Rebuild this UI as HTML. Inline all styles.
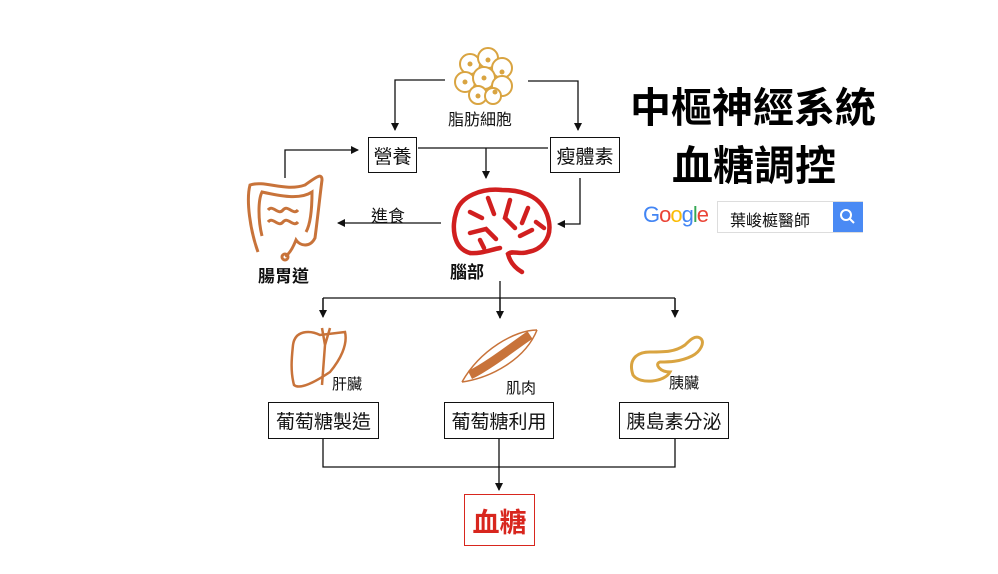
<!DOCTYPE html>
<html><head><meta charset="utf-8"><style>
body{margin:0;width:998px;height:574px;background:#fff;position:relative;overflow:hidden;font-family:"Liberation Sans","Noto Sans CJK TC",sans-serif;}
.t{position:absolute;white-space:nowrap;color:#111}
.box{position:absolute;border:1.5px solid #111;box-sizing:border-box;display:flex;align-items:center;justify-content:center;font-size:19px;color:#111;background:#fff}
</style></head><body>
<svg width="998" height="574" style="position:absolute;left:0;top:0">
<defs><marker id="a" markerWidth="8" markerHeight="8" refX="7" refY="4" orient="auto" markerUnits="userSpaceOnUse"><path d="M0,0 L8,4 L0,8 z" fill="#111"/></marker></defs>
<g stroke="#111" stroke-width="1.3" fill="none">
<path d="M445,80 H395 V130" marker-end="url(#a)"/>
<path d="M528,81 H578 V130" marker-end="url(#a)"/>
<path d="M418,148 H548"/>
<path d="M486,148 V178" marker-end="url(#a)"/>
<path d="M580,178 V224 H558" marker-end="url(#a)"/>
<path d="M285,178 V150 H358" marker-end="url(#a)"/>
<path d="M441,223 H338" marker-end="url(#a)"/>
<path d="M500,281 V298 M323,298 H675 M323,298 V316 M500,298 V318 M675,298 V316" />
<path d="M323,298 V317" marker-end="url(#a)"/><path d="M500,298 V318" marker-end="url(#a)"/><path d="M675,298 V317" marker-end="url(#a)"/>
<path d="M323,438 V467 H675 V438"/>
<path d="M499,438 V490" marker-end="url(#a)"/>
</g>
<!-- fat cells -->
<g stroke="#d9a441" stroke-width="2" fill="#fff">
<circle cx="470" cy="64" r="10"/><circle cx="488" cy="58" r="10"/><circle cx="502" cy="68" r="10"/><circle cx="465" cy="82" r="10"/><circle cx="484" cy="78" r="11"/><circle cx="502" cy="86" r="10"/><circle cx="478" cy="95" r="9"/><circle cx="493" cy="96" r="8"/>
</g>
<g fill="#d9a441"><circle cx="470" cy="64" r="2.5"/><circle cx="484" cy="78" r="2.5"/><circle cx="465" cy="82" r="2.5"/><circle cx="502" cy="72" r="2.5"/><circle cx="495" cy="92" r="2.5"/><circle cx="478" cy="96" r="2.5"/><circle cx="488" cy="60" r="2.5"/></g>
<!-- gut -->
<g stroke="#c8733a" stroke-width="3" fill="none">
<path d="M258,252 C250,230 246,200 250,185 C265,180 285,192 305,185 C315,178 322,172 322,180 C320,195 318,215 315,238 C310,248 300,246 296,240 C292,250 288,255 285,256"/>
<path d="M262,236 C258,220 258,200 262,192 C280,196 300,200 312,192 C312,210 310,225 306,232"/>
<path d="M268,210 c5,-6 10,6 15,0 s10,6 15,0 M268,222 c5,-6 10,6 15,0 s10,6 15,0"/>
<circle cx="285" cy="257" r="3"/>
</g>
<!-- brain -->
<g stroke="#d11f1f" stroke-width="4.5" fill="none" stroke-linecap="round">
<path d="M470,253 C452,248 452,225 456,213 C460,196 482,188 502,190 C525,190 545,198 549,222 C552,240 540,250 528,252 C520,255 512,250 508,254 C510,262 515,268 522,272"/>
<path d="M470,253 C480,254 490,250 500,248"/>
<path d="M470,212 l12,6 M488,198 l6,16 M510,200 l-5,18 l10,10 M528,208 l-6,15 M470,233 l16,-4 l10,10 M520,236 l12,-6 M536,222 l8,6 M480,240 l4,8"/>
</g>
<!-- liver -->
<g stroke="#c8733a" stroke-width="2.5" fill="none">
<path d="M293,345 C295,330 310,330 320,335 L345,332 C348,345 340,360 330,372 C315,382 300,390 294,385 C290,370 292,355 293,345z"/>
<path d="M322,328 L325,345 L322,385 M330,328 L325,345"/>
</g>
<!-- muscle -->
<g stroke="#c8733a" fill="none">
<path d="M462,382 C480,350 515,330 537,330" stroke-width="1.5"/>
<path d="M462,382 C490,378 525,360 537,330" stroke-width="1.5"/>
<path d="M470,375 C490,365 515,345 530,335" stroke-width="9"/>
</g>
<!-- pancreas -->
<path d="M633,375 C628,360 636,352 650,352 C665,352 675,352 685,345 C690,340 695,335 700,338 C706,342 700,352 692,356 C680,362 668,362 660,362 C654,364 660,372 670,372 C665,382 640,385 633,375z" stroke="#d9a441" stroke-width="3" fill="none"/>
</svg>
<div class="t" style="left:448px;top:106px;font-size:16px">脂肪細胞</div>
<div class="box" style="left:368px;top:137px;width:49px;height:36px">營養</div>
<div class="box" style="left:550px;top:137px;width:70px;height:36px">瘦體素</div>
<div class="t" style="left:371px;top:202px;font-size:17px">進食</div>
<div class="t" style="left:258px;top:262px;font-size:17px;font-weight:bold">腸胃道</div>
<div class="t" style="left:450px;top:258px;font-size:17px;font-weight:bold">腦部</div>
<div class="t" style="left:332px;top:373px;font-size:15px">肝臟</div>
<div class="t" style="left:506px;top:377px;font-size:15px">肌肉</div>
<div class="t" style="left:669px;top:372px;font-size:15px">胰臟</div>
<div class="box" style="left:268px;top:402px;width:111px;height:37px">葡萄糖製造</div>
<div class="box" style="left:444px;top:402px;width:110px;height:37px">葡萄糖利用</div>
<div class="box" style="left:619px;top:402px;width:110px;height:37px">胰島素分泌</div>
<div class="box" style="left:464px;top:494px;width:71px;height:52px;border-color:#d8261e;color:#d8261e;font-size:27px;font-weight:bold">血糖</div>
<div class="t" style="left:630px;top:74px;font-size:41px;font-weight:bold;color:#000">中樞神經系統</div>
<div class="t" style="left:672px;top:132px;font-size:41px;font-weight:bold;color:#000">血糖調控</div>
<div class="t" style="left:643px;top:202px;font-size:22px;letter-spacing:-1px"><span style="color:#4285f4">G</span><span style="color:#ea4335">o</span><span style="color:#fbbc05">o</span><span style="color:#4285f4">g</span><span style="color:#34a853">l</span><span style="color:#ea4335">e</span></div>
<div style="position:absolute;left:717px;top:201px;width:146px;height:32px;border:1px solid #ddd;box-sizing:border-box"></div>
<div class="t" style="left:730px;top:207px;font-size:16px">葉峻榳醫師</div>
<div style="position:absolute;left:833px;top:202px;width:30px;height:30px;background:#4a8af4"></div>
<svg width="30" height="30" style="position:absolute;left:833px;top:202px"><circle cx="13" cy="13" r="5" stroke="#fff" stroke-width="2" fill="none"/><path d="M17,17 L21,21" stroke="#fff" stroke-width="2"/></svg>
</body></html>
